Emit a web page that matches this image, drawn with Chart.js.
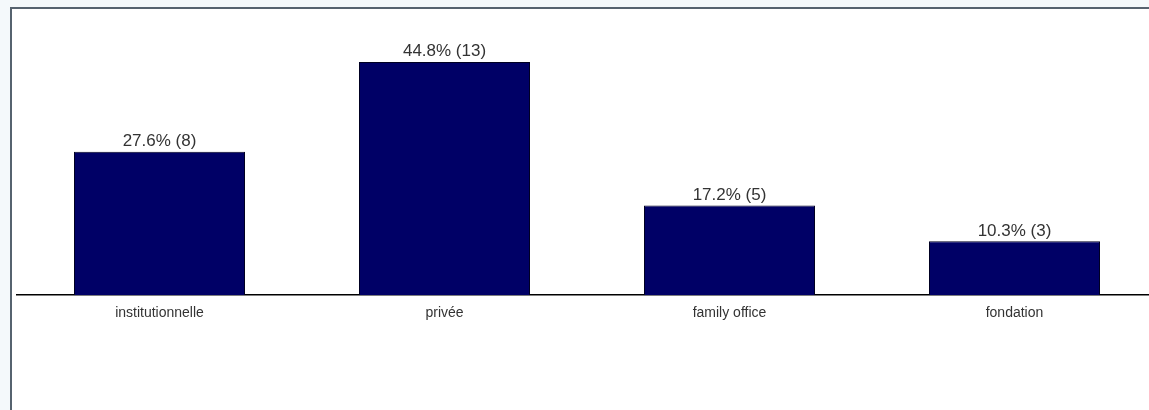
<!DOCTYPE html>
<html>
<head>
<meta charset="utf-8">
<script src="https://cdn.jsdelivr.net/npm/chart.js@4/dist/chart.umd.min.js"></script>
<style>
    html, body { margin: 0; padding: 0; overflow: hidden; }
    body { width: 1149px; height: 410px; background: #f4f9fb; position: relative; }
    #frame {
        position: absolute; left: 10px; top: 7px; right: -20px; bottom: -20px;
        background: #fff; border-left: 2px solid #56636f; border-top: 2px solid #56636f;
    }
    #chart { position: absolute; left: 0; top: 0; }
</style>
</head>
<body>
<div id="frame"></div>
<canvas id="chart" width="1160" height="410"></canvas>
<script>
const categories = ["institutionnelle", "privée", "family office", "fondation"];
const counts = [8, 13, 5, 3];
const percents = [27.6, 44.8, 17.2, 10.3];

const valueLabels = {
    id: "valueLabels",
    afterDatasetsDraw(chart) {
        const ctx = chart.ctx;
        const meta = chart.getDatasetMeta(0);
        ctx.save();
        ctx.font = "17px 'Liberation Sans', Arial, sans-serif";
        ctx.fillStyle = "#333";
        ctx.textAlign = "center";
        ctx.textBaseline = "bottom";
        meta.data.forEach((bar, i) => {
            const text = percents[i].toFixed(1) + "% (" + counts[i] + ")";
            ctx.fillText(text, bar.x, bar.y - 2);
        });
        ctx.restore();
    }
};

new Chart(document.getElementById("chart"), {
    type: "bar",
    data: {
        labels: categories,
        datasets: [{
            data: counts,
            backgroundColor: "#000066",
            borderColor: "#000022",
            borderWidth: 1,
            barPercentage: 0.6,
            categoryPercentage: 1
        }]
    },
    options: {
        responsive: false,
        animation: false,
        layout: { padding: { left: 17, right: 3, top: 26, bottom: 78 } },
        plugins: {
            legend: { display: false },
            tooltip: { enabled: false }
        },
        scales: {
            x: {
                grid: { display: false, drawTicks: false },
                border: { display: true, color: "#000", width: 1.5 },
                ticks: {
                    padding: 10,
                    color: "#333",
                    font: { family: "'Liberation Sans', Arial, sans-serif", size: 14 }
                }
            },
            y: {
                display: false,
                min: 0,
                max: 15
            }
        }
    },
    plugins: [valueLabels]
});
</script>
</body>
</html>
